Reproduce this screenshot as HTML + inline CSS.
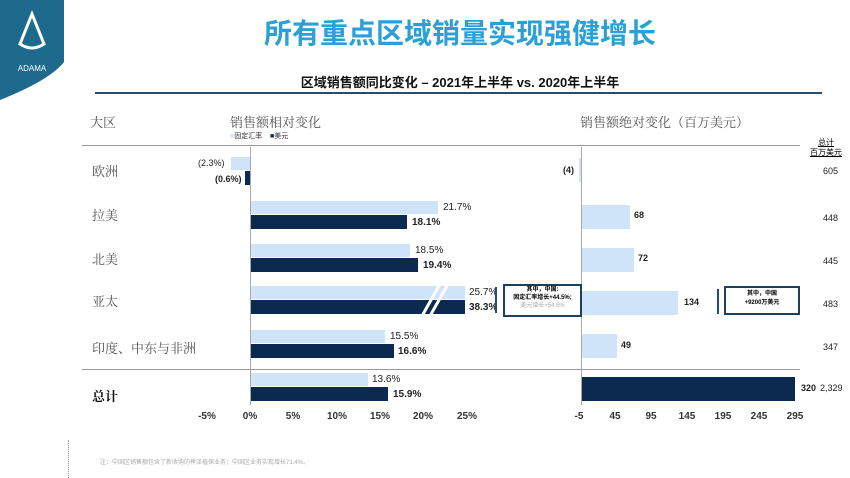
<!DOCTYPE html>
<html><head><meta charset="utf-8"><style>
body{margin:0;width:850px;height:478px;background:#fff;position:relative;overflow:hidden;font-family:"Liberation Sans","Noto Sans CJK SC",sans-serif}
div{position:absolute}
.t{font-size:10px;color:#222;white-space:nowrap}
.lab{font-size:13px;color:#555;font-family:"Noto Serif CJK SC","Noto Sans CJK SC",serif}
.L{background:#cfe3f9}.D{background:#0c2a4f}
.ax{font-size:10px;color:#333;font-weight:bold;transform:translateX(-50%)}
</style></head><body>
<svg style="position:absolute;left:0;top:0" width="70" height="100"><path d="M0 0H64V62Q50 80 0 100Z" fill="#1e6a8d"/><path d="M32 14L20 44Q32 52 44 44Z" fill="none" stroke="#fff" stroke-width="3"/><text x="32" y="71" fill="#fff" font-size="8" text-anchor="middle" font-family="Liberation Sans">ADAMA</text></svg>
<div style="left:0;width:850px;top:12px;text-align:center;font-size:28px;font-weight:bold;color:#2aa1d6;padding-left:70px;box-sizing:border-box">所有重点区域销量实现强健增长</div>
<div style="left:0;width:850px;top:72px;text-align:center;font-size:13px;font-weight:bold;color:#111;padding-left:70px;box-sizing:border-box">区域销售额同比变化 – 2021年上半年 vs. 2020年上半年</div>
<div style="left:95px;top:92px;width:727px;height:2px;background:#2a4a6e"></div>
<div class="lab" style="left:90px;top:112px">大区</div>
<div class="lab" style="left:230px;top:112px">销售额相对变化</div>
<div class="lab" style="left:580px;top:112px">销售额绝对变化（百万美元）</div>
<div style="left:230px;top:131px;font-size:7px;color:#333"><span style="color:#cfe3f9">■</span>固定汇率 &nbsp;&nbsp;&nbsp;<span style="color:#0c2a4f">■</span>美元</div>
<div style="left:810px;top:138px;font-size:8px;text-align:center;line-height:10px;text-decoration:underline">总计<br>百万美元</div>
<div style="left:82px;top:145px;width:718px;height:1px;background:#999"></div>
<div style="left:82px;top:369px;width:718px;height:1px;background:#999"></div>
<div style="left:250px;top:147px;width:1px;height:258px;background:#aaa"></div>
<div style="left:581px;top:147px;width:1px;height:258px;background:#aaa"></div>
<div class="lab" style="left:92px;top:161px">欧洲</div>
<div class="lab" style="left:92px;top:205px">拉美</div>
<div class="lab" style="left:92px;top:249px">北美</div>
<div class="lab" style="left:92px;top:291px">亚太</div>
<div class="lab" style="left:92px;top:338px">印度、中东与非洲</div>
<div class="lab" style="left:92px;top:386px;font-weight:bold;color:#111">总计</div>
<div class="L" style="left:231px;top:157px;width:19px;height:13px"></div>
<div class="D" style="left:245px;top:171px;width:5px;height:14px"></div>
<div class="t" style="left:198px;top:158px;font-size:9px">(2.3%)</div>
<div class="t" style="left:215px;top:174px;font-size:9px;font-weight:bold">(0.6%)</div>
<div class="L" style="left:251px;top:201px;width:187px;height:13px"></div>
<div class="D" style="left:251px;top:215px;width:156px;height:14px"></div>
<div class="t" style="left:443px;top:202px">21.7%</div><div class="t" style="left:412px;top:217px;font-weight:bold">18.1%</div>
<div class="L" style="left:251px;top:244px;width:159px;height:13px"></div>
<div class="D" style="left:251px;top:258px;width:167px;height:14px"></div>
<div class="t" style="left:415px;top:245px">18.5%</div><div class="t" style="left:423px;top:260px;font-weight:bold">19.4%</div>
<div class="L" style="left:251px;top:286px;width:214px;height:13px"></div>
<div class="D" style="left:251px;top:300px;width:214px;height:14px"></div>
<svg style="position:absolute;left:418px;top:284px" width="40" height="32"><path d="M4 32L22 0M12 32L30 0" stroke="#fff" stroke-width="3"/></svg>
<div class="t" style="left:469px;top:287px">25.7%</div><div class="t" style="left:469px;top:302px;font-weight:bold">38.3%</div>
<div style="left:495px;top:287px;width:2px;height:26px;background:#1e4f7a"></div>
<div style="left:503px;top:284px;width:75px;height:29px;border:2px solid #1e4060;font-size:6px;text-align:center;line-height:8px;font-weight:bold">其中，中国:<br>固定汇率增长+44.5%;<br><span style="color:#aaa;font-weight:normal">美元增长+54.6%</span></div>
<div class="L" style="left:251px;top:330px;width:134px;height:13px"></div>
<div class="D" style="left:251px;top:344px;width:143px;height:14px"></div>
<div class="t" style="left:390px;top:331px">15.5%</div><div class="t" style="left:398px;top:346px;font-weight:bold">16.6%</div>
<div class="L" style="left:251px;top:373px;width:117px;height:13px"></div>
<div class="D" style="left:251px;top:387px;width:137px;height:14px"></div>
<div class="t" style="left:372px;top:374px">13.6%</div><div class="t" style="left:393px;top:389px;font-weight:bold">15.9%</div>
<div class="ax" style="left:207px;top:411px">-5%</div><div class="ax" style="left:250px;top:411px">0%</div><div class="ax" style="left:293px;top:411px">5%</div><div class="ax" style="left:337px;top:411px">10%</div><div class="ax" style="left:380px;top:411px">15%</div><div class="ax" style="left:423px;top:411px">20%</div><div class="ax" style="left:467px;top:411px">25%</div>
<div class="L" style="left:579px;top:158px;width:2px;height:24px"></div><div class="t" style="left:563px;top:165px;font-size:9px;font-weight:bold">(4)</div>
<div class="L" style="left:582px;top:205px;width:48px;height:24px"></div><div class="t" style="left:634px;top:210px;font-weight:bold;font-size:9px">68</div>
<div class="L" style="left:582px;top:248px;width:52px;height:24px"></div><div class="t" style="left:638px;top:253px;font-weight:bold;font-size:9px">72</div>
<div class="L" style="left:582px;top:291px;width:96px;height:24px"></div><div class="t" style="left:684px;top:297px;font-weight:bold;font-size:9px">134</div>
<div style="left:717px;top:289px;width:2px;height:25px;background:#1e4f7a"></div>
<div style="left:724px;top:286px;width:72px;height:23px;border:2px solid #1e4060;font-size:6px;text-align:center;line-height:9px;font-weight:bold;padding-top:2px">其中，中国<br>+9200万美元</div>
<div class="L" style="left:582px;top:334px;width:35px;height:24px"></div><div class="t" style="left:621px;top:340px;font-weight:bold;font-size:9px">49</div>
<div class="D" style="left:582px;top:377px;width:213px;height:24px"></div><div class="t" style="left:801px;top:383px;font-weight:bold;font-size:9px">320</div>
<div class="t" style="left:820px;top:383px;font-size:9px">2,329</div>
<div class="t" style="left:823px;top:166px;font-size:9px">605</div>
<div class="t" style="left:823px;top:213px;font-size:9px">448</div>
<div class="t" style="left:823px;top:256px;font-size:9px">445</div>
<div class="t" style="left:823px;top:299px;font-size:9px">483</div>
<div class="t" style="left:823px;top:342px;font-size:9px">347</div>
<div class="ax" style="left:579px;top:411px">-5</div><div class="ax" style="left:615px;top:411px">45</div><div class="ax" style="left:651px;top:411px">95</div><div class="ax" style="left:687px;top:411px">145</div><div class="ax" style="left:723px;top:411px">195</div><div class="ax" style="left:759px;top:411px">245</div><div class="ax" style="left:795px;top:411px">295</div>
<div style="left:68px;top:440px;width:1px;height:38px;border-left:1px dotted #999"></div>
<div style="left:100px;top:457px;font-size:6px;color:#aaa">注：中国区销售额包含了新收购的榉泽植保业务；中国区业务实现增长71.4%。</div>
</body></html>
